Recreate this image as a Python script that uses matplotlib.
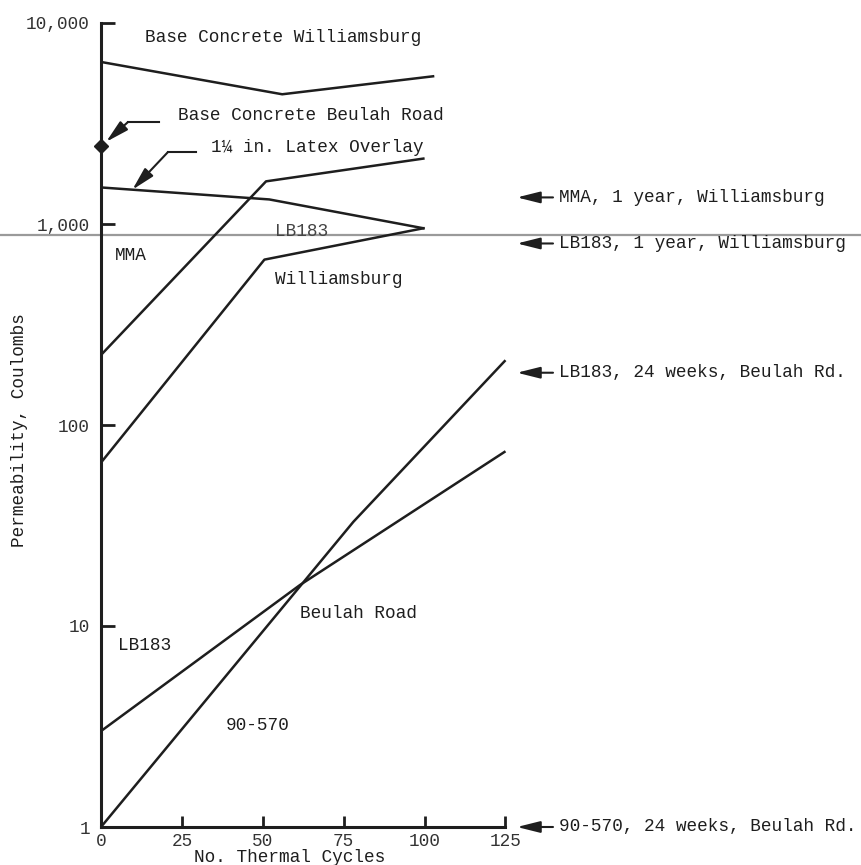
import numpy as np
import matplotlib
matplotlib.use("Agg")
import matplotlib.pyplot as plt
from matplotlib.lines import Line2D

# ---------------- data ----------------
cycles_base_wb = [0, 56, 103]
perm_base_wb = [6400, 4420, 5440]          # Base Concrete Williamsburg

base_beulah_x = 0
base_beulah_y = 2430                       # Base Concrete Beulah Road

cycles_latex = [0, 52, 100]
perm_latex = [1520, 1325, 950]             # 1 1/4 in. Latex Overlay

cycles_mma = [0, 51, 100]
perm_mma = [223, 1630, 2120]               # MMA, Williamsburg

cycles_lb_wb = [0, 50.5, 100]
perm_lb_wb = [65, 665, 955]                # LB183, Williamsburg

cycles_lb_br = [0, 61.5, 125]
perm_lb_br = [3.0, 16, 74]                 # LB183, Beulah Road

cycles_9057 = [0, 78, 125]
perm_9057 = [1.0, 33, 210]                 # 90-570, Beulah Road

right_labels = ["MMA, 1 year, Williamsburg", "LB183, 1 year, Williamsburg",
                "LB183, 24 weeks, Beulah Rd.", "90-570, 24 weeks, Beulah Rd."]
right_values = [1356, 800, 182, 1]

scan_line_value = 877

yticks = [1, 10, 100, 1000, 10000]
ytick_labels = ["1", "10", "100", "1,000", "10,000"]
xticks = [0, 25, 50, 75, 100, 125]
xtick_labels = ["0", "25", "50", "75", "100", "125"]

# ---------------- figure ----------------
W, H = 862, 865
FONT = "Liberation Mono"
FS = 12.8
INK = "#1e1e1e"

fig = plt.figure(figsize=(W / 100, H / 100), dpi=100)
fig.patch.set_facecolor("white")
ax = fig.add_axes([101 / W, (H - 827) / H, (505.5 - 101) / W, (827 - 23) / H])
ax.set_yscale("log")
ax.set_xlim(0, 125)
ax.set_ylim(1, 10000)

lw = 1.8
for xs, ys in [(cycles_base_wb, perm_base_wb), (cycles_latex, perm_latex),
               (cycles_mma, perm_mma), (cycles_lb_wb, perm_lb_wb),
               (cycles_lb_br, perm_lb_br), (cycles_9057, perm_9057)]:
    ax.plot(xs, ys, color=INK, lw=lw, solid_capstyle="butt", clip_on=False, zorder=3)

ax.plot([base_beulah_x], [base_beulah_y], marker="D", ms=7, color=INK,
        clip_on=False, zorder=4)

# scan artefact line across the page
ax.axhline(scan_line_value, xmin=-101 / 404.5, xmax=(W - 101) / 404.5,
           color="#9a9a9a", lw=1.6, clip_on=False, zorder=2)

# axes styling
for s in ["top", "right"]:
    ax.spines[s].set_visible(False)
for s in ["left", "bottom"]:
    ax.spines[s].set_linewidth(2.2)
    ax.spines[s].set_color(INK)
ax.set_yticks(yticks)
ax.set_yticklabels(ytick_labels)
ax.yaxis.set_minor_locator(matplotlib.ticker.NullLocator())
ax.set_xticks(xticks)
ax.set_xticklabels(xtick_labels)
ax.tick_params(axis="y", direction="in", length=10, width=2, color=INK, pad=8)
ax.tick_params(axis="x", direction="in", length=8, width=2, color=INK, pad=4)
for lab in ax.get_xticklabels() + ax.get_yticklabels():
    lab.set_fontfamily(FONT)
    lab.set_fontsize(FS)
    lab.set_color("#333333")

def ftext(px, py, s, **kw):
    kw.setdefault("ha", "left")
    kw.setdefault("va", "center")
    kw.setdefault("color", INK)
    fig.text(px / W, 1 - py / H, s, family=FONT, fontsize=FS, **kw)

ftext(145, 37, "Base Concrete Williamsburg")
ftext(178, 116, "Base Concrete Beulah Road")
ftext(211, 147, "1\u00bc in. Latex Overlay")
ftext(275, 232, "LB183", color="#444444")
ftext(115, 255, "MMA")
ftext(275, 279, "Williamsburg")
ftext(300, 614, "Beulah Road")
ftext(118, 646, "LB183")
ftext(226, 726, "90-570")
ftext(20, 430, "Permeability, Coulombs", ha="center", rotation=90)
ftext(290, 858, "No. Thermal Cycles", ha="center")

arrow_kw = dict(arrowstyle="-|>,head_length=1.0,head_width=0.25", lw=1.5,
                color=INK, mutation_scale=14)

# left leaders
fig.add_artist(Line2D([159, 128], [H - 122, H - 122], transform=None, color=INK, lw=1.5))
ax.annotate("", xy=(base_beulah_x, base_beulah_y), xycoords="data",
            xytext=(128, H - 122), textcoords="figure pixels",
            arrowprops=dict(shrinkA=0, shrinkB=5, **arrow_kw), annotation_clip=False)

fig.add_artist(Line2D([196, 168], [H - 152, H - 152], transform=None, color=INK, lw=1.5))
lx = 9.7
ly = 10 ** np.interp(lx, cycles_latex, np.log10(perm_latex))
ax.annotate("", xy=(lx, ly), xycoords="data",
            xytext=(168, H - 152), textcoords="figure pixels",
            arrowprops=dict(shrinkA=0, shrinkB=0, **arrow_kw), annotation_clip=False)

# right annotations
for lab, val in zip(right_labels, right_values):
    ax.annotate("", xy=(517, val), xycoords=("figure pixels", "data"),
                xytext=(553, val), textcoords=("figure pixels", "data"),
                arrowprops=dict(shrinkA=0, shrinkB=0, **arrow_kw), annotation_clip=False)
    ax.annotate(lab, xy=(559, val), xycoords=("figure pixels", "data"),
                ha="left", va="center", family=FONT, fontsize=FS, color=INK,
                annotation_clip=False)

fig.savefig("out.png", dpi=100, facecolor="white")
